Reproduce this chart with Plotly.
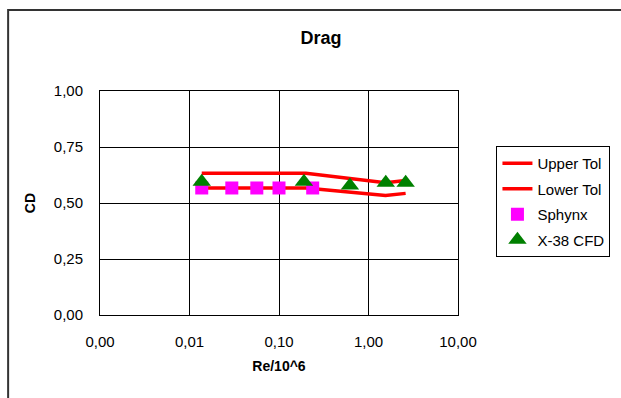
import plotly.graph_objects as go

# Data
tol_x = [0.0137, 0.2, 1.55, 2.6]
upper_tol = [0.633, 0.633, 0.59, 0.60]
lower_tol = [0.567, 0.567, 0.533, 0.543]
sphynx_x = [0.0137, 0.0297, 0.0565, 0.1, 0.238]
sphynx_y = [0.567, 0.567, 0.567, 0.567, 0.567]
cfd_x = [0.0137, 0.19, 0.62, 1.56, 2.6]
cfd_y = [0.595, 0.595, 0.578, 0.59, 0.59]

x_tickvals = [0.001, 0.01, 0.1, 1, 10]
x_ticktext = ["0,00", "0,01", "0,10", "1,00", "10,00"]
y_tickvals = [0, 0.25, 0.5, 0.75, 1.0]
y_ticktext = ["0,00", "0,25", "0,50", "0,75", "1,00"]

W, H = 621, 398
L, R, T, B = 100, 162.5, 91, 83
pw, ph = W - L - R, H - T - B

fig = go.Figure()
fig.add_trace(go.Scatter(x=tol_x, y=upper_tol, mode="lines", name="Upper Tol",
                         line=dict(color="#FF0000", width=3.5), legendgroup="a"))
fig.add_trace(go.Scatter(x=tol_x, y=lower_tol, mode="lines", name="Lower Tol",
                         line=dict(color="#FF0000", width=3.5), legendgroup="b"))
fig.add_trace(go.Scatter(x=sphynx_x, y=sphynx_y, mode="markers", name="Sphynx",
                         marker=dict(symbol="square", color="#FF00FF", size=13,
                                     line=dict(width=0)), legendgroup="c"))
fig.add_trace(go.Scatter(x=cfd_x, y=cfd_y, mode="markers", name="X-38 CFD",
                         marker=dict(symbol="triangle-up", color="#008000", size=16,
                                     line=dict(width=0)), legendgroup="d"))

font = "Liberation Sans, Arial, sans-serif"
fig.update_layout(
    width=W, height=H,
    margin=dict(l=L, r=R, t=T, b=B, pad=0, autoexpand=False),
    paper_bgcolor="white", plot_bgcolor="white",
    font=dict(family=font, size=15, color="black"),
    title=dict(text="<b>Drag</b>", x=321 / W, xanchor="center",
               y=1 - 38 / H, yanchor="middle", font=dict(size=18)),
    showlegend=True,
    legend=dict(x=(497 - L) / pw, xanchor="left", y=(H - B - 146) / ph, yanchor="top",
                bordercolor="black", borderwidth=1, bgcolor="white",
                tracegroupgap=3, font=dict(size=15)),
    xaxis=dict(type="log", range=[-3, 1], tickvals=x_tickvals, ticktext=x_ticktext,
               showgrid=True, gridcolor="black", gridwidth=1,
               showline=True, linecolor="black", linewidth=1, mirror=True,
               ticks="", ticklabelstandoff=13, zeroline=False,
               title=dict(text="<b>Re/10^6</b>", standoff=12, font=dict(size=14))),
    yaxis=dict(range=[0, 1], tickvals=y_tickvals, ticktext=y_ticktext,
               showgrid=True, gridcolor="black", gridwidth=1,
               showline=True, linecolor="black", linewidth=1, mirror=True,
               ticks="", ticklabelstandoff=13, zeroline=False,
               title=dict(text="<b>CD</b>", standoff=14, font=dict(size=14))),
    shapes=[dict(type="rect", xref="paper", yref="paper",
                 x0=(8 - L) / pw, x1=(W + 20 - L) / pw,
                 y0=-(B + 20) / ph, y1=(H - B - 10) / ph,
                 line=dict(color="#333333", width=2), fillcolor="rgba(0,0,0,0)",
                 layer="above")],
)

fig.write_html("out.html")
